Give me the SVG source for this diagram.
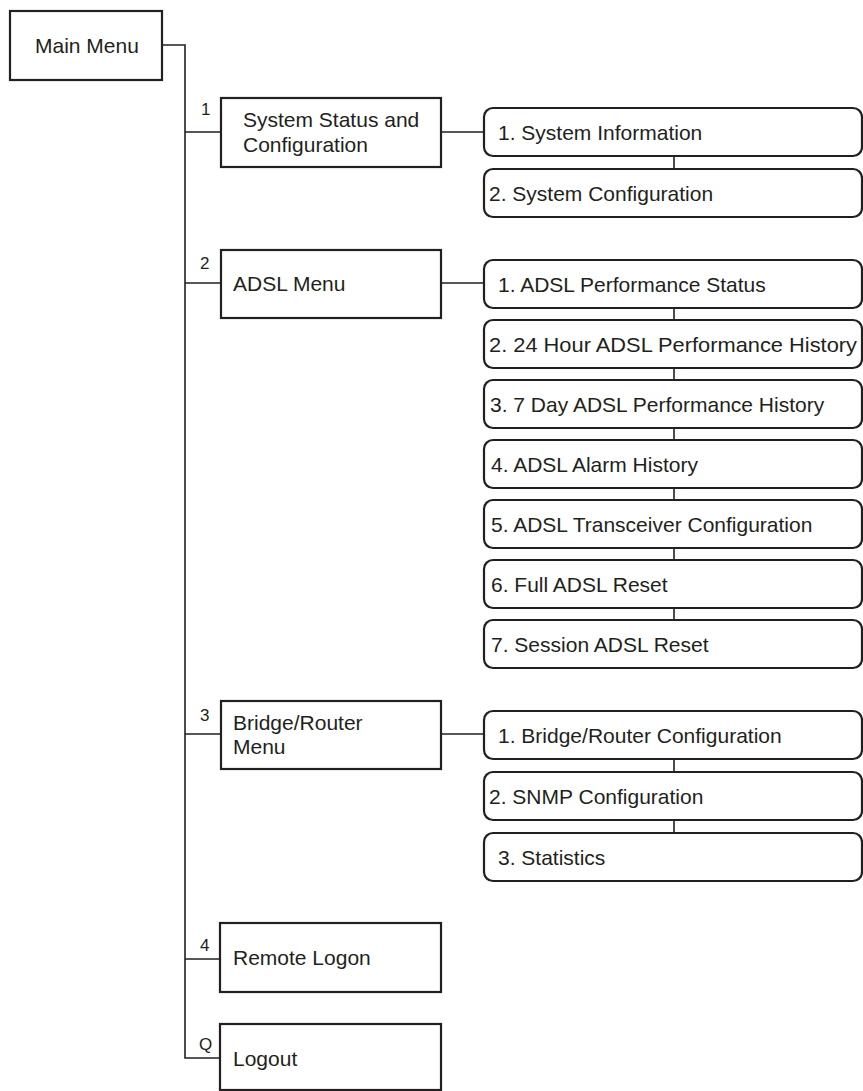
<svg xmlns="http://www.w3.org/2000/svg" width="863" height="1091" viewBox="0 0 863 1091">
<style>
.box{fill:#fff;stroke:#231f20;stroke-width:2.2}
.sub{fill:#fff;stroke:#231f20;stroke-width:2.2}
.ln{fill:none;stroke:#231f20;stroke-width:1.6}
text{font-family:"Liberation Sans",Arial,Helvetica,sans-serif;fill:#231f20}
.t{font-size:21px}
.n{font-size:17px}
</style>
<rect width="863" height="1091" fill="#fff"/>
<g id="connectors">
<path class="ln" d="M162,45 H185 V1058 H220"/>
<path class="ln" d="M185,132 H221 M185,283 H221 M185,734 H221 M185,959 H220"/>
<path class="ln" d="M441,132 H484 M441,283 H484 M441,734 H484"/>
<path class="ln" d="M674,156 V169"/>
<path class="ln" d="M674,308 V320 M674,368 V380 M674,428 V440 M674,488 V500 M674,548 V560 M674,608 V620"/>
<path class="ln" d="M674,759 V772 M674,820 V833"/>
</g>
<g id="n-main"><rect class="box" x="10" y="11" width="152" height="69"/><text class="t" x="35" y="53">Main Menu</text></g>
<g id="n-sys"><rect class="box" x="221" y="98" width="220" height="69"/><text class="n" x="201" y="115">1</text><text class="t" x="243" y="127">System Status and</text><text class="t" x="243" y="152">Configuration</text></g>
<g id="n-adsl"><rect class="box" x="221" y="250" width="220" height="68"/><text class="n" x="200" y="269">2</text><text class="t" x="233" y="291">ADSL Menu</text></g>
<g id="n-bridge"><rect class="box" x="221" y="701" width="220" height="68"/><text class="n" x="200" y="721">3</text><text class="t" x="233" y="730">Bridge/Router</text><text class="t" x="233" y="754">Menu</text></g>
<g id="n-remote"><rect class="box" x="220" y="923" width="221" height="69"/><text class="n" x="200" y="951">4</text><text class="t" x="233" y="965">Remote Logon</text></g>
<g id="n-logout"><rect class="box" x="220" y="1024" width="221" height="66"/><text class="n" x="199" y="1050">Q</text><text class="t" x="233" y="1066">Logout</text></g>
<g id="n-sys1"><rect class="sub" x="484" y="108" width="378" height="48" rx="9"/><text class="t" x="498" y="140">1. System Information</text></g>
<g id="n-sys2"><rect class="sub" x="484" y="169" width="378" height="48" rx="9"/><text class="t" x="489" y="201">2. System Configuration</text></g>
<g id="n-adsl1"><rect class="sub" x="484" y="260" width="378" height="48" rx="9"/><text class="t" x="498" y="292">1. ADSL Performance Status</text></g>
<g id="n-adsl2"><rect class="sub" x="484" y="320" width="378" height="48" rx="9"/><text class="t" x="489" y="352" textLength="368" lengthAdjust="spacingAndGlyphs">2. 24 Hour ADSL Performance History</text></g>
<g id="n-adsl3"><rect class="sub" x="484" y="380" width="378" height="48" rx="9"/><text class="t" x="490" y="412">3. 7 Day ADSL Performance History</text></g>
<g id="n-adsl4"><rect class="sub" x="484" y="440" width="378" height="48" rx="9"/><text class="t" x="491" y="472">4. ADSL Alarm History</text></g>
<g id="n-adsl5"><rect class="sub" x="484" y="500" width="378" height="48" rx="9"/><text class="t" x="491" y="532">5. ADSL Transceiver Configuration</text></g>
<g id="n-adsl6"><rect class="sub" x="484" y="560" width="378" height="48" rx="9"/><text class="t" x="491" y="592">6. Full ADSL Reset</text></g>
<g id="n-adsl7"><rect class="sub" x="484" y="620" width="378" height="48" rx="9"/><text class="t" x="491" y="652">7. Session ADSL Reset</text></g>
<g id="n-br1"><rect class="sub" x="484" y="711" width="378" height="48" rx="9"/><text class="t" x="498" y="743">1. Bridge/Router Configuration</text></g>
<g id="n-br2"><rect class="sub" x="484" y="772" width="378" height="48" rx="9"/><text class="t" x="489" y="804">2. SNMP Configuration</text></g>
<g id="n-br3"><rect class="sub" x="484" y="833" width="378" height="48" rx="9"/><text class="t" x="498" y="865">3. Statistics</text></g>
</svg>
